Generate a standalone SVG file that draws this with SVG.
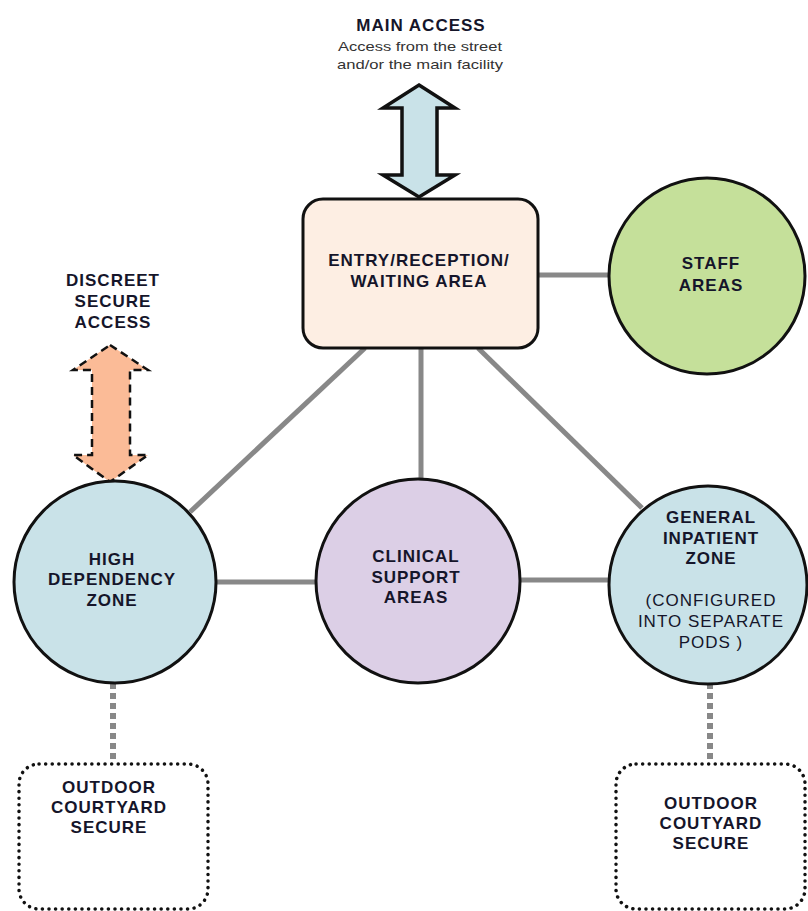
<svg xmlns="http://www.w3.org/2000/svg" width="808" height="911" viewBox="0 0 808 911">
<style>
.t{font-family:"Liberation Sans",Arial,sans-serif;font-size:17px;font-weight:bold;fill:#15152a;text-anchor:middle;letter-spacing:1px}
.r{font-weight:normal}
.s{font-family:"Liberation Sans",Arial,sans-serif;font-size:13px;fill:#333;text-anchor:middle}
.c{stroke:#888;stroke-width:5;fill:none}
.d{stroke:#888;stroke-width:6;fill:none;stroke-dasharray:6 4}
.n{stroke:#111;stroke-width:3}
.o{fill:#fff;stroke:#111;stroke-width:3.5;stroke-dasharray:0.1 6.5;stroke-linecap:round}
</style>
<rect width="808" height="911" fill="#fff"/>
<g id="connectors">
<line class="c" x1="538" y1="275" x2="608" y2="275"/>
<line class="c" x1="365" y1="348" x2="190" y2="512"/>
<line class="c" x1="421" y1="348" x2="421" y2="480"/>
<line class="c" x1="478" y1="348" x2="642" y2="508"/>
<line class="c" x1="217" y1="582" x2="316" y2="582"/>
<line class="c" x1="519" y1="580" x2="608" y2="580"/>
<line class="d" x1="113" y1="683" x2="113" y2="762"/>
<line class="d" x1="710" y1="683" x2="710" y2="762"/>
</g>
<g id="main-access">
<text class="t" x="421" y="31">MAIN ACCESS</text>
<text class="s" x="420" y="51" textLength="164" lengthAdjust="spacingAndGlyphs">Access from the street</text>
<text class="s" x="420" y="69" textLength="166" lengthAdjust="spacingAndGlyphs">and/or the main facility</text>
<polygon points="419,85 455,108 437,108 437,175 455,175 419,197 383,175 402,175 402,108 383,108" fill="#c9e2e8" stroke="#111" stroke-width="3.5" stroke-linejoin="miter"/>
</g>
<g id="discreet-access">
<text class="t" x="113" y="286">DISCREET</text>
<text class="t" x="113" y="307">SECURE</text>
<text class="t" x="113" y="328">ACCESS</text>
<polygon points="110,345 148,370 130,370 130,455 148,455 110,482 73,455 92,455 92,370 73,370" fill="#fbbb97" stroke="#111" stroke-width="2.5" stroke-dasharray="8 5"/>
</g>
<g id="entry">
<rect class="n" x="303" y="199" width="235" height="149" rx="20" fill="#fdeee3"/>
<text class="t" x="419" y="266">ENTRY/RECEPTION/</text>
<text class="t" x="419" y="287">WAITING AREA</text>
</g>
<g id="staff">
<circle class="n" cx="707" cy="276" r="98" fill="#c5e09a"/>
<text class="t" x="711" y="269">STAFF</text>
<text class="t" x="711" y="291">AREAS</text>
</g>
<g id="high-dependency">
<circle class="n" cx="115" cy="582" r="101" fill="#c9e2e8"/>
<text class="t" x="112" y="565">HIGH</text>
<text class="t" x="112" y="585">DEPENDENCY</text>
<text class="t" x="112" y="606">ZONE</text>
</g>
<g id="clinical">
<circle class="n" cx="418" cy="581" r="102" fill="#dccfe6"/>
<text class="t" x="416" y="562">CLINICAL</text>
<text class="t" x="416" y="583">SUPPORT</text>
<text class="t" x="416" y="603">AREAS</text>
</g>
<g id="general-inpatient">
<circle class="n" cx="708" cy="585" r="99" fill="#c9e2e8"/>
<text class="t" x="711" y="523">GENERAL</text>
<text class="t" x="711" y="544">INPATIENT</text>
<text class="t" x="711" y="564">ZONE</text>
<text class="t r" x="711" y="606">(CONFIGURED</text>
<text class="t r" x="711" y="627">INTO SEPARATE</text>
<text class="t r" x="711" y="648">PODS )</text>
</g>
<g id="outdoor-left">
<rect class="o" x="19" y="764" width="189" height="145" rx="20"/>
<text class="t" x="109" y="793">OUTDOOR</text>
<text class="t" x="109" y="813">COURTYARD</text>
<text class="t" x="109" y="833">SECURE</text>
</g>
<g id="outdoor-right">
<rect class="o" x="616" y="764" width="189" height="145" rx="20"/>
<text class="t" x="711" y="809">OUTDOOR</text>
<text class="t" x="711" y="829">COUTYARD</text>
<text class="t" x="711" y="849">SECURE</text>
</g>
</svg>
